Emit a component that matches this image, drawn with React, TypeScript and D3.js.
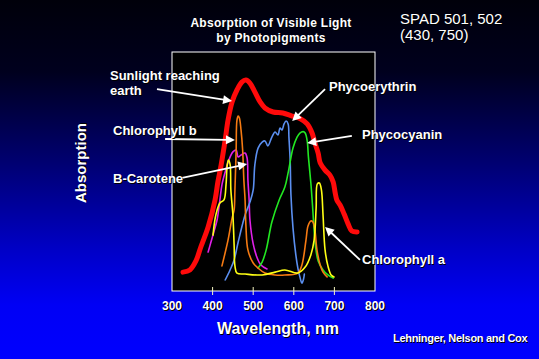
import React from "react";
import * as d3 from "d3";

// ---- data: wavelength (nm) and relative absorption (0-100) ----
const sunlightNm = [327, 344, 359, 371, 389, 406, 413, 421, 431, 438, 448, 460, 472, 482, 492, 504, 517, 529, 549, 573, 596, 615, 633, 645, 652, 660, 665, 677, 689, 697, 702, 706, 714, 724, 734, 743, 756];
const sunlightAbs = [7.9, 8.8, 12.6, 18.4, 26.8, 38.1, 45.6, 52.7, 63.2, 71.5, 79.1, 84.1, 87.4, 88.3, 87.0, 83.3, 79.1, 76.6, 74.9, 74.5, 73.2, 72.2, 69.9, 66.1, 61.9, 57.7, 53.6, 50.6, 48.5, 45.6, 41.0, 38.1, 36.0, 32.2, 28.0, 25.1, 24.7];

const chlBNm = [423, 438, 448, 453, 455, 458, 460, 463, 466, 470, 474, 477, 480, 482, 487, 500, 512, 529, 554, 578, 610, 620, 630, 635, 642, 647, 652, 657, 665, 672, 682];
const chlBAbs = [10.5, 21.3, 30.5, 33.9, 42.3, 59.0, 71.5, 73.2, 72.4, 67.4, 59.0, 46.4, 38.1, 27.6, 17.2, 11.7, 9.6, 7.5, 6.7, 6.7, 7.5, 10.9, 21.3, 27.2, 29.3, 28.9, 25.5, 17.2, 10.9, 7.9, 5.9];

const yellowNm = [401, 408, 418, 428, 433, 436, 439, 443, 445, 450, 453, 455, 460, 480, 522, 554, 578, 610, 628, 642, 650, 655, 658, 663, 668, 672, 677, 684, 692, 699];
const yellowAbs = [23.4, 31.8, 36.8, 38.1, 44.4, 52.7, 54.8, 53.1, 42.3, 31.8, 19.2, 10.5, 7.5, 7.1, 6.7, 7.9, 8.8, 7.5, 10.0, 15.1, 21.3, 34.7, 44.8, 45.2, 42.3, 31.8, 17.2, 10.5, 6.7, 5.9];

const caroteneNm = [389, 396, 403, 411, 418, 423, 431, 440, 450, 458, 463, 470, 480, 485, 487, 490, 492, 500, 509, 519, 534];
const caroteneAbs = [16.3, 20.5, 24.7, 29.7, 38.1, 44.4, 49.8, 54.8, 58.2, 59.0, 56.1, 56.9, 57.7, 55.6, 46.4, 38.1, 29.7, 19.7, 14.2, 10.9, 9.2];

const phycoerythrinNm = [431, 443, 453, 463, 480, 492, 500, 504, 512, 522, 529, 536, 546, 554, 561, 566, 571, 576, 581, 586, 588, 591, 593, 598, 605, 610, 615, 620, 624, 626];
const phycoerythrinAbs = [4.6, 8.8, 13.0, 20.5, 31.8, 37.2, 42.3, 52.7, 59.8, 62.3, 62.8, 60.7, 64.4, 66.5, 65.3, 68.2, 67.4, 69.9, 71.1, 69.9, 64.4, 54.8, 40.2, 26.4, 15.1, 9.6, 5.9, 3.3, 5.0, 7.1];

const phycocyaninNm = [512, 522, 532, 546, 564, 578, 586, 598, 608, 615, 623, 628, 633, 636, 642, 646, 650, 654, 660, 672, 684, 697];
const phycocyaninAbs = [9.6, 12.1, 17.2, 28.9, 38.1, 43.5, 49.4, 59.8, 64.4, 66.1, 66.7, 66.1, 62.8, 56.1, 45.2, 36.0, 25.5, 18.0, 12.6, 8.8, 6.7, 5.4];

const xTicks = [300, 400, 500, 600, 700, 800];

const W = 539;
const H = 359;
const plot = { left: 172, right: 375, top: 52, bottom: 291 };

const x = d3.scaleLinear().domain([300, 800]).range([plot.left, plot.right]);
const y = d3.scaleLinear().domain([0, 100]).range([plot.bottom, plot.top]);

const lineGen = d3
  .line<[number, number]>()
  .x((d) => x(d[0]))
  .y((d) => y(d[1]))
  .curve(d3.curveCatmullRom.alpha(0.5));

const zip = (a: number[], b: number[]) => a.map((v, i) => [v, b[i]] as [number, number]);

const series = [
  { name: "Sunlight", nm: sunlightNm, abs: sunlightAbs, color: "#ff0a0a", width: 5 },
  { name: "B-Carotene", nm: caroteneNm, abs: caroteneAbs, color: "#e020e8", width: 1.6 },
  { name: "Phycoerythrin", nm: phycoerythrinNm, abs: phycoerythrinAbs, color: "#5b8ff0", width: 1.6 },
  { name: "Phycocyanin", nm: phycocyaninNm, abs: phycocyaninAbs, color: "#22e822", width: 1.6 },
  { name: "Chlorophyll b", nm: chlBNm, abs: chlBAbs, color: "#f57a12", width: 1.6 },
  { name: "Yellow", nm: yellowNm, abs: yellowAbs, color: "#ffff14", width: 1.6 },
];

// annotation arrows: start -> tip, in data coordinates
const arrows = [
  { from: [263, 84.5], to: [448, 79.5] },
  { from: [283, 63.6], to: [455, 63.2] },
  { from: [325, 47.3], to: [485, 53.1] },
  { from: [677, 84.5], to: [596, 71.1] },
  { from: [743, 64.9], to: [633, 61.9] },
  { from: [763, 13], to: [677, 26.8] },
];

const FONT = "Arial, 'Liberation Sans', Helvetica, sans-serif";

function ShadowText(props: {
  x: number;
  y: number;
  size: number;
  weight?: string | number;
  anchor?: string;
  children: React.ReactNode;
  transform?: string;
  ls?: number;
  off?: number;
}) {
  const { x: tx, y: ty, size, weight = "bold", anchor = "start", children, transform, ls = 0, off = 1 } = props;
  const common = {
    fontFamily: FONT,
    fontSize: size,
    fontWeight: weight as any,
    textAnchor: anchor as any,
    letterSpacing: ls,
  };
  return (
    <g transform={transform}>
      <text x={tx + off} y={ty + off} fill="#000" {...common}>
        {children}
      </text>
      <text x={tx} y={ty} fill="#fff" {...common}>
        {children}
      </text>
    </g>
  );
}

function arrowHead(fx: number, fy: number, tx: number, ty: number, len = 9, half = 4.5) {
  const a = Math.atan2(ty - fy, tx - fx);
  const bx = tx - len * Math.cos(a);
  const by = ty - len * Math.sin(a);
  const px = -Math.sin(a) * half;
  const py = Math.cos(a) * half;
  return `M${tx},${ty}L${bx + px},${by + py}L${bx - px},${by - py}Z`;
}

export default function App() {
  return (
    <div style={{ position: "fixed", left: 0, top: 0, width: W, height: H }}>
      <svg width={W} height={H} style={{ display: "block" }}>
        <defs>
          <linearGradient id="bg" x1="0" y1="0" x2="0" y2="1">
            <stop offset="0" stopColor="#00000a" />
            <stop offset="0.2" stopColor="#00001e" />
            <stop offset="0.45" stopColor="#000070" />
            <stop offset="0.7" stopColor="#0000c8" />
            <stop offset="0.85" stopColor="#0000f5" />
            <stop offset="1" stopColor="#0000ff" />
          </linearGradient>
        </defs>
        <rect x={0} y={0} width={W} height={H} fill="url(#bg)" />

        {/* plot area */}
        <rect
          x={plot.left}
          y={plot.top}
          width={plot.right - plot.left}
          height={plot.bottom - plot.top}
          fill="#000"
          stroke="#ffffff"
          strokeWidth={1}
        />

        {/* ticks */}
        {xTicks.slice(1, -1).map((t) => (
          <line key={t} x1={x(t)} x2={x(t)} y1={plot.bottom - 4} y2={plot.bottom + 4} stroke="#f4f4c0" strokeWidth={1} />
        ))}

        {/* curves */}
        {series.map((s) => (
          <path
            key={s.name}
            d={lineGen(zip(s.nm, s.abs)) || ""}
            fill="none"
            stroke={s.color}
            strokeWidth={s.width}
            strokeLinejoin="round"
            strokeLinecap="round"
          />
        ))}

        {/* arrows */}
        {arrows.map((a, i) => {
          const fx = x(a.from[0]);
          const fy = y(a.from[1]);
          const tx = x(a.to[0]);
          const ty = y(a.to[1]);
          const ang = Math.atan2(ty - fy, tx - fx);
          const ex = tx - 7 * Math.cos(ang);
          const ey = ty - 7 * Math.sin(ang);
          return (
            <g key={i}>
              <line x1={fx} y1={fy} x2={ex} y2={ey} stroke="#fff" strokeWidth={1.8} />
              <path d={arrowHead(fx, fy, tx, ty)} fill="#fff" />
            </g>
          );
        })}

        {/* tick labels */}
        {xTicks.map((t) => (
          <ShadowText key={t} x={x(t)} y={310} size={12} anchor="middle" off={1.2}>
            {t}
          </ShadowText>
        ))}

        {/* titles */}
        <ShadowText x={271} y={27} size={12} anchor="middle" ls={0.3}>
          Absorption of Visible Light
        </ShadowText>
        <ShadowText x={271} y={41.5} size={12} anchor="middle" ls={0.3}>
          by Photopigments
        </ShadowText>
        <ShadowText x={400} y={23.5} size={15} weight="normal">
          SPAD 501, 502
        </ShadowText>
        <ShadowText x={400} y={40} size={15} weight="normal">
          (430, 750)
        </ShadowText>

        {/* axis titles */}
        <ShadowText x={278} y={334} size={16} anchor="middle">
          Wavelength, nm
        </ShadowText>
        <ShadowText x={0} y={0} size={15} anchor="middle" transform="translate(86,163) rotate(-90)">
          Absorption
        </ShadowText>

        {/* curve labels */}
        <ShadowText x={110} y={79.5} size={13}>Sunlight reaching</ShadowText>
        <ShadowText x={110} y={95} size={13}>earth</ShadowText>
        <ShadowText x={113} y={135} size={13}>Chlorophyll b</ShadowText>
        <ShadowText x={113} y={182.5} size={13}>B-Carotene</ShadowText>
        <ShadowText x={329} y={90.5} size={13}>Phycoerythrin</ShadowText>
        <ShadowText x={362} y={138.5} size={13}>Phycocyanin</ShadowText>
        <ShadowText x={362} y={263.5} size={13}>Chlorophyll a</ShadowText>

        <ShadowText x={393} y={341.5} size={11} ls={-0.3}>
          Lehninger, Nelson and Cox
        </ShadowText>
      </svg>
    </div>
  );
}
